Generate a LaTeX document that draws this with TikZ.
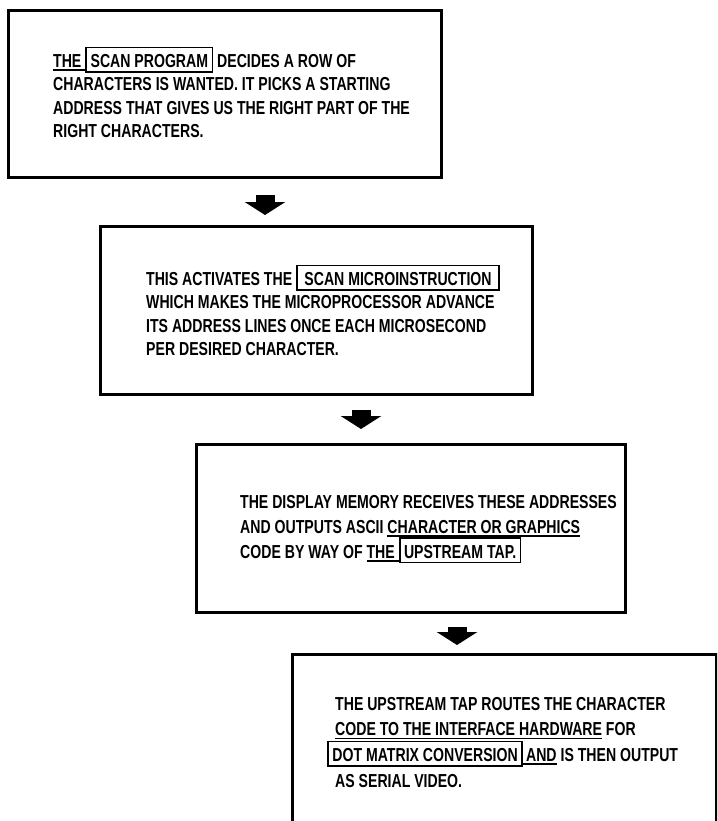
\documentclass[tikz,border=0pt]{standalone}
\usepackage{fontspec}
\setmainfont{Liberation Sans}[FakeStretch=0.75]
\usetikzlibrary{arrows.meta,positioning}

\newsavebox\ulbox
\newcommand\ul[1]{\sbox\ulbox{#1}\rlap{\rule[-3.5pt]{\wd\ulbox}{1.7pt}}\usebox\ulbox}
\newcommand\kw[1]{{\setlength\fboxsep{3.5pt}\setlength\fboxrule{1.7pt}\fbox{\rule{0pt}{15.5pt}#1}}}

\begin{document}
\begin{tikzpicture}[x=1pt,y=-1pt,
        frame/.style={draw,line width=3pt,anchor=north west,inner sep=0pt},
        blurb/.style={font=\bfseries\fontsize{18.8}{#1}\selectfont,align=left,inner sep=0pt},
        blurb/.default=23.5,
        fat/.style={line width=19pt,-{Triangle[width=40pt,length=13pt]}}]
            \path[use as bounding box,clip] (0,0) rectangle (717,821);

            \node[frame,minimum width=433pt,minimum height=167pt] (prog)  at (7,9)    {};
            \node[frame,minimum width=432pt,minimum height=168pt] (instr) at (99,225) {};
            \node[frame,minimum width=429pt,minimum height=168pt] (mem)   at (195,443) {};
            \node[frame,minimum width=424pt,minimum height=200pt] (tap)   at (291,653) {};

            \node[blurb,below right=37.5pt and 46pt of prog.north west] (progtxt)
                {\ul{THE\hspace{4pt}}\kw{SCAN PROGRAM} DECIDES A ROW OF\\
                 CHARACTERS IS WANTED. IT PICKS A STARTING\\
                 ADDRESS THAT GIVES US THE RIGHT PART OF THE\\
                 RIGHT CHARACTERS.};
            \node[blurb,below right=39.5pt and 47pt of instr.north west] (instrtxt)
                {THIS ACTIVATES THE \kw{\,SCAN MICROINSTRUCTION\,}\\
                 WHICH MAKES THE MICROPROCESSOR ADVANCE\\
                 ITS ADDRESS LINES ONCE EACH MICROSECOND\\
                 PER DESIRED CHARACTER.};
            \node[blurb=25,below right=51.7pt and 45pt of mem.north west] (memtxt)
                {THE DISPLAY MEMORY RECEIVES THESE ADDRESSES\\
                 AND OUTPUTS ASCII \ul{CHARACTER OR GRAPHICS}\\
                 CODE BY WAY OF \ul{THE\hspace{4pt}}\kw{UPSTREAM TAP.}};
            \node[blurb=25.7,below right=43.7pt and 44pt of tap.north west] (taptxt)
                {THE UPSTREAM TAP ROUTES THE CHARACTER\\
                 \ul{CODE TO THE INTERFACE HARDWARE} FOR\\
                 \hspace*{-8pt}\kw{DOT MATRIX CONVERSION}\ul{\,AND} IS THEN OUTPUT\\
                 AS SERIAL VIDEO.};

            \coordinate (a1) at (265,195);
            \coordinate (b1) at (265,215);
            \coordinate (a2) at (361,410);
            \coordinate (b2) at (361,429);
            \coordinate (a3) at (457,627);
            \coordinate (b3) at (457,645);

            \draw[fat] (a1) -- (b1);
            \draw[fat] (a2) -- (b2);
            \draw[fat] (a3) -- (b3);
        \end{tikzpicture}
\end{document}
